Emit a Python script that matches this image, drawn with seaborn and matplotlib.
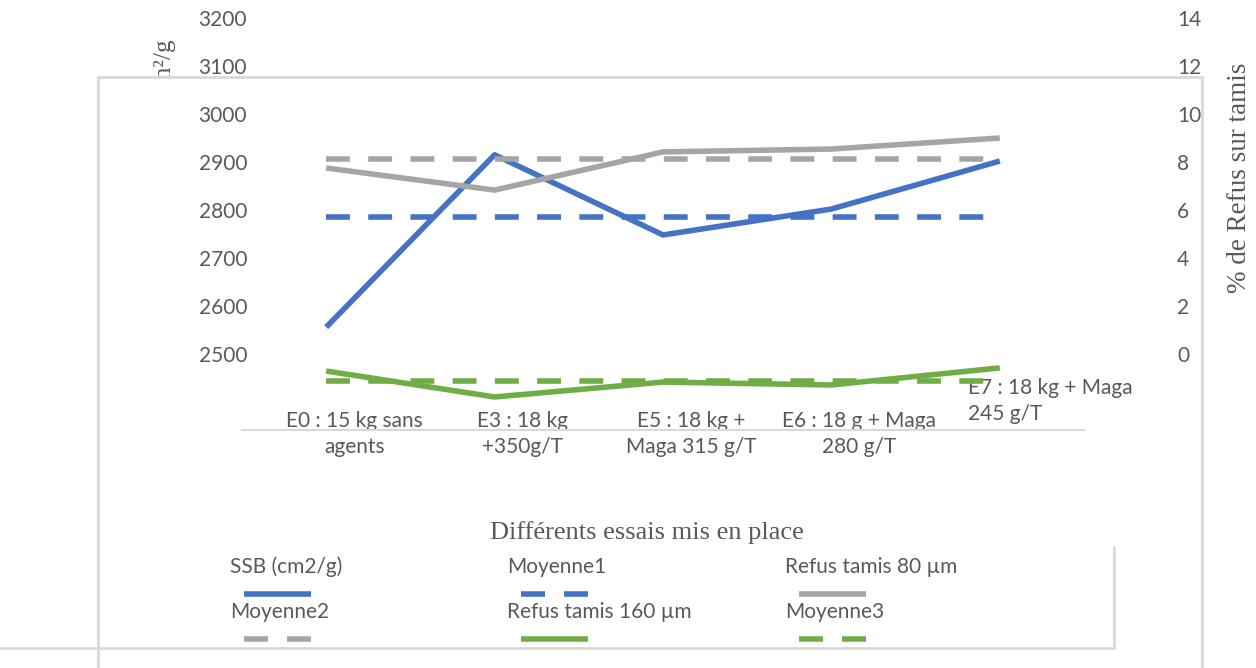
import matplotlib
matplotlib.use("Agg")
import matplotlib.pyplot as plt
import matplotlib.transforms as mtransforms
from matplotlib.patches import Rectangle
from matplotlib.lines import Line2D
import seaborn as sns
import pandas as pd

# ---- data ----
categories = ["E0 : 15 kg sans\nagents", "E3 : 18 kg\n+350g/T", "E5 : 18 kg +\nMaga 315 g/T",
              "E6 : 18 g + Maga\n280 g/T", "E7 : 18 kg + Maga\n245 g/T"]
ssb = [2556, 2915, 2748, 2802, 2902]
moyenne1 = [2785, 2785, 2785, 2785, 2785]
refus80 = [7.75, 6.83, 8.42, 8.54, 9.0]
moyenne2 = [8.12, 8.12, 8.12, 8.12, 8.12]
refus160 = [-0.71, -1.79, -1.17, -1.29, -0.58]
moyenne3 = [-1.12, -1.12, -1.12, -1.12, -1.12]
left_ticks = [2500, 2600, 2700, 2800, 2900, 3000, 3100, 3200]
right_ticks = [0, 2, 4, 6, 8, 10, 12, 14]

df = pd.DataFrame({"cat": categories, "ssb": ssb, "m1": moyenne1, "r80": refus80,
                   "m2": moyenne2, "r160": refus160, "m3": moyenne3})

BLUE, GRAY, GREEN = "#4472C4", "#A5A5A5", "#70AD47"
TXT = "#595959"
FRAME = "#D9D9D9"
SANS = "Lato"
SERIF = "Liberation Serif"

sns.set_theme(style="white")
plt.rcParams["font.family"] = [SANS, "DejaVu Sans"]

W, H = 1256, 668
fig = plt.figure(figsize=(W / 100, H / 100), dpi=100)

def fx(px):
    return px / W

def fy(py):
    return 1 - py / H

# left axis label, partly hidden behind the white chart frame
fig.text(fx(165), fy(40), "SSB en cm²/g", rotation=90, ha="center", va="top",
         family=SERIF, fontsize=18, color=TXT, zorder=-3)

# white frame (chart area)
fig.patches.append(Rectangle((fx(98), fy(720)), fx(1202) - fx(98), fy(77) - fy(720),
                             transform=fig.transFigure, facecolor="white",
                             edgecolor=FRAME, lw=2, zorder=-2))
# legend box partial edges
fig.lines.append(Line2D([fx(0), fx(1114)], [fy(648), fy(648)], transform=fig.transFigure,
                        color=FRAME, lw=2, zorder=-1))
fig.lines.append(Line2D([fx(1114), fx(1114)], [fy(547), fy(648)], transform=fig.transFigure,
                        color=FRAME, lw=2, zorder=-1))

ax = fig.add_axes([fx(242), fy(430), fx(1084) - fx(242), fy(18) - fy(430)])
ax.patch.set_visible(False)
ax2 = ax.twinx()

LW = 4
DASH = (4.3, 3.3)
sns.lineplot(data=df, x="cat", y="ssb", ax=ax, color=BLUE, lw=LW, sort=False)
sns.lineplot(data=df, x="cat", y="m1", ax=ax, color=BLUE, lw=LW, sort=False)
ax.lines[-1].set_dashes(DASH)
sns.lineplot(data=df, x="cat", y="r80", ax=ax2, color=GRAY, lw=LW, sort=False)
sns.lineplot(data=df, x="cat", y="m2", ax=ax2, color=GRAY, lw=LW, sort=False)
ax2.lines[-1].set_dashes(DASH)
sns.lineplot(data=df, x="cat", y="r160", ax=ax2, color=GREEN, lw=LW, sort=False)
sns.lineplot(data=df, x="cat", y="m3", ax=ax2, color=GREEN, lw=LW, sort=False)
ax2.lines[-1].set_dashes(DASH)
for l in ax.lines + ax2.lines:
    l.set_solid_capstyle("butt")
    l.set_dash_capstyle("butt")

ax.set_xlim(-0.5, 4.5)
ax.set_ylim(2500 - 76 / 0.48, 3200)
ax2.set_ylim(-76 / 24, 14)
ax.set_yticks(left_ticks)
ax2.set_yticks(right_ticks)
ax.set_xlabel("")
ax.set_ylabel("")
ax2.set_ylabel("")

for a in (ax, ax2):
    for s in a.spines.values():
        s.set_visible(False)
ax.spines["bottom"].set_visible(True)
ax.spines["bottom"].set_color(FRAME)
ax.spines["bottom"].set_linewidth(1.5)

ax.tick_params(axis="y", length=0, pad=-5 * 0.72, labelsize=15, labelcolor=TXT)
ax2.tick_params(axis="y", length=0, pad=93 * 0.72, labelsize=15, labelcolor=TXT)
ax.tick_params(axis="x", length=0, pad=0, labelsize=15, labelcolor=TXT)
ax.grid(False)
ax2.grid(False)

ax.set_xticks(range(len(categories)))
ax.set_xticklabels(categories)
for i, lab in enumerate(ax.get_xticklabels()):
    lab.set_linespacing(1.35)
    if i == len(categories) - 1:
        lab.set_ha("left")
        lab.set_multialignment("left")
        off = mtransforms.ScaledTranslation(-32 / 100, 52 / 100, fig.dpi_scale_trans)
    else:
        off = mtransforms.ScaledTranslation(28 / 100, 19 / 100, fig.dpi_scale_trans)
    lab.set_transform(lab.get_transform() + off)

# axis titles
fig.text(fx(647), fy(533), "Différents essais mis en place", ha="center", va="center",
         family=SERIF, fontsize=19, color=TXT)
fig.text(fx(1240), fy(178), "% de Refus sur tamis", rotation=90, ha="center", va="center",
         family=SERIF, fontsize=19.5, color=TXT)

# legend (text above line sample)
entries = [("SSB (cm2/g)", BLUE, False), ("Moyenne1", BLUE, True), ("Refus tamis 80 µm", GRAY, False),
           ("Moyenne2", GRAY, True), ("Refus tamis 160 µm", GREEN, False), ("Moyenne3", GREEN, True)]
cols = [230, 507, 785]
rows = [(567, 594), (612, 639)]
for k, (name, col, dashed) in enumerate(entries):
    cx = cols[k % 3]
    ty, ly = rows[k // 3]
    fig.text(fx(cx), fy(ty), name, ha="left", va="center", fontsize=15, color=TXT)
    ln = Line2D([fx(cx + 14), fx(cx + 81)], [fy(ly), fy(ly)], transform=fig.transFigure,
                color=col, lw=LW, solid_capstyle="butt", dash_capstyle="butt")
    if dashed:
        ln.set_dashes((24 * 0.72 / LW, 19 * 0.72 / LW))
    fig.lines.append(ln)

fig.savefig("out.png", dpi=100)
